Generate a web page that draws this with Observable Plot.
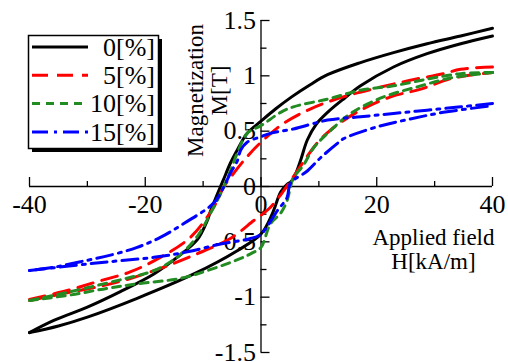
<!DOCTYPE html>
<html>
<head>
<meta charset="utf-8">
<script src="https://cdn.jsdelivr.net/npm/d3@7"></script>
<script src="https://cdn.jsdelivr.net/npm/@observablehq/plot@0.6"></script>
<style>
  html, body { margin: 0; padding: 0; background: #fff; }
  #wrap { position: relative; width: 508px; height: 362px; }
  #legend { position: absolute; left: 26px; top: 33px; }
  svg text { font-family: "Liberation Serif", "Times New Roman", Times, serif !important; }
</style>
</head>
<body>
<div id="wrap"></div>
<script>
// ---- data ----
const seriesNames = ["0[%]", "5[%]", "10[%]", "15[%]"];
const seriesColors = ["#000000", "#ff0000", "#228b22", "#0000ff"];
const seriesDash = [null, "16,9", "8,6", "16,6,3,6"];

const xMajor = [-40, -20, 0, 20, 40];
const xMinor = [-30, -10, 10, 30];
const yMajor = [-1.5, -1, -0.5, 0, 0.5, 1, 1.5];
const yMinor = [-1.25, -0.75, -0.25, 0.25, 0.75, 1.25];

// [H kA/m, M T]; upper = descending branch, lower = ascending branch
const upper0 = [[40,1.43],[34.5,1.36],[28.7,1.29],[22.9,1.21],[17.2,1.12],[11.5,1.01],[8.5,0.92],[5.3,0.81],[2.5,0.70],[0,0.59],[-2.4,0.48],[-4.1,0.33],[-5.3,0.21],[-6.5,0.06],[-7,0],[-8.7,-0.22],[-9.3,-0.31],[-11,-0.48],[-14.5,-0.64],[-18.5,-0.79],[-24.3,-0.95],[-30,-1.09],[-35.8,-1.21],[-40,-1.32]];
const lower0 = [[-40,-1.32],[-35,-1.26],[-30,-1.18],[-21.4,-1.01],[-11.6,-0.79],[-4.1,-0.58],[0,-0.43],[2,-0.24],[3.4,-0.05],[4.5,0.02],[5.1,0.04],[5.7,0.08],[6.8,0.23],[8,0.42],[9.5,0.56],[11.5,0.67],[14,0.78],[17.2,0.91],[22.9,1.08],[28.7,1.20],[34.5,1.29],[40,1.36]];

const upper5 = [[40,1.08],[34.5,1.06],[31.6,1.02],[25.8,0.96],[20,0.89],[14.2,0.81],[8.5,0.70],[3.9,0.57],[0,0.40],[-2.4,0.27],[-5.3,0.08],[-6.4,0],[-8.2,-0.19],[-12.2,-0.46],[-17.4,-0.64],[-22.5,-0.77],[-28.3,-0.86],[-33.5,-0.94],[-40,-1.02]];
const lower5 = [[-40,-1.03],[-33.5,-0.96],[-27.7,-0.90],[-23.1,-0.84],[-17.4,-0.74],[-11.6,-0.62],[-5.3,-0.47],[-1.3,-0.31],[0,-0.26],[1.6,-0.19],[3.9,-0.04],[5.1,0.05],[7.3,0.22],[9.5,0.38],[12,0.51],[17.2,0.69],[22.4,0.81],[27.6,0.88],[33.2,0.98],[40,1.03]];

const upper10 = [[40,1.03],[34.5,1.02],[28.7,0.97],[22.9,0.91],[17.2,0.87],[11.5,0.79],[5.6,0.72],[3.4,0.67],[0,0.55],[-2.4,0.48],[-4.1,0.30],[-5.3,0.14],[-6.4,0],[-8.5,-0.22],[-11,-0.45],[-14.5,-0.64],[-18.5,-0.76],[-22.5,-0.82],[-27.2,-0.88],[-32.9,-0.95],[-40,-1.03]];
const lower10 = [[-40,-1.03],[-32.9,-0.98],[-26.6,-0.92],[-21.4,-0.88],[-13.9,-0.83],[-9.3,-0.76],[-3.5,-0.65],[-1.5,-0.60],[0,-0.55],[1.6,-0.34],[3.4,-0.24],[4.5,-0.13],[5.1,0],[5.6,0.08],[7.3,0.19],[9.1,0.35],[11.5,0.48],[15.5,0.66],[21.2,0.81],[27,0.90],[32.7,0.98],[40,1.03]];

const upper15 = [[40,0.75],[34.5,0.72],[28.7,0.69],[22.9,0.66],[17.2,0.63],[11.5,0.60],[5.6,0.52],[1.6,0.48],[0,0.45],[-2.4,0.40],[-3.5,0.33],[-4.1,0.23],[-5.3,0.12],[-6.4,0],[-8.2,-0.15],[-13.2,-0.33],[-17.4,-0.46],[-21.4,-0.55],[-26,-0.62],[-31.2,-0.68],[-35.8,-0.73],[-40,-0.76]];
const lower15 = [[-40,-0.76],[-30,-0.70],[-24.3,-0.67],[-18.5,-0.64],[-12.7,-0.59],[-7,-0.52],[-1.8,-0.47],[0,-0.43],[2.8,-0.22],[4.5,-0.10],[5.1,0.03],[8,0.14],[10.3,0.26],[13.2,0.39],[14.2,0.43],[20.1,0.54],[25.8,0.61],[31.5,0.67],[40,0.73]];

const branches = [[upper0, lower0], [upper5, lower5], [upper10, lower10], [upper15, lower15]];

// ---- build table ----
const rows = [];
branches.forEach(([up, lo], i) => {
  up.forEach(([H, M]) => rows.push({series: seriesNames[i], branch: "up", H, M}));
  lo.forEach(([H, M]) => rows.push({series: seriesNames[i], branch: "down", H, M}));
});

const FONT = "Liberation Serif, Times New Roman, Times, serif";
const axisW = 1.3;

const seriesMarks = seriesNames.map((name, i) =>
  Plot.line(rows.filter(d => d.series === name), {
    x: "H", y: "M", z: "branch",
    stroke: seriesColors[i], strokeWidth: 3,
    strokeDasharray: seriesDash[i],
    curve: "catmull-rom"
  })
);

const chart = Plot.plot({
  width: 508, height: 362,
  marginLeft: 29, marginRight: 16, marginTop: 20, marginBottom: 10,
  x: {domain: [xMajor[0], xMajor[xMajor.length - 1]], axis: null},
  y: {domain: [yMajor[0], yMajor[yMajor.length - 1]], axis: null},
  style: "font-family: 'Liberation Serif', 'Times New Roman', serif; background: white; color: black; overflow: visible;",
  marks: [
    // axis lines through the origin
    Plot.ruleY([0], {x1: () => xMajor[0], x2: () => xMajor[xMajor.length - 1], stroke: "black", strokeWidth: axisW}),
    Plot.ruleX([0], {y1: () => yMajor[0], y2: () => yMajor[yMajor.length - 1], stroke: "black", strokeWidth: axisW}),
    // tick marks
    Plot.ruleX(xMajor, {x: d => d, y1: () => 0, y2: () => 0, insetTop: -9, stroke: "black", strokeWidth: axisW}),
    Plot.ruleX(xMinor, {x: d => d, y1: () => 0, y2: () => 0, insetTop: -5, stroke: "black", strokeWidth: axisW}),
    Plot.ruleY(yMajor, {y: d => d, x1: () => 0, x2: () => 0, insetRight: -9, stroke: "black", strokeWidth: axisW}),
    Plot.ruleY(yMinor, {y: d => d, x1: () => 0, x2: () => 0, insetRight: -6, stroke: "black", strokeWidth: axisW}),
    // tick labels
    Plot.text(xMajor, {x: d => d, y: () => 0, text: d => String(d), dy: 18, fontSize: 26, fontFamily: FONT, fill: "black"}),
    Plot.text(yMajor, {x: () => 0, y: d => d, text: d => String(d), textAnchor: "end", dx: -5, fontSize: 26, fontFamily: FONT, fill: "black"}),
    // axis titles
    Plot.text(["Applied field\nH[kA/m]"], {frameAnchor: "top-left", dx: 404, dy: 207, textAnchor: "middle", lineAnchor: "top", lineHeight: 1.05, fontSize: 23, fontFamily: FONT, fill: "black"}),
    Plot.text(["Magnetization\nM[T]"], {frameAnchor: "top-left", dx: 156, dy: 70, rotate: -90, textAnchor: "middle", lineAnchor: "top", lineHeight: 1.05, fontSize: 23, fontFamily: FONT, fill: "black"}),
    // data
    ...seriesMarks
  ]
});

const wrap = document.getElementById("wrap");
wrap.appendChild(chart);

// ---- legend (boxed with drop shadow) ----
const lg = d3.create("svg").attr("id", "legend").attr("width", 142).attr("height", 126)
  .style("font-family", FONT);
lg.append("rect").attr("x", 6).attr("y", 6).attr("width", 130).attr("height", 113).attr("fill", "black");
lg.append("rect").attr("x", 2.5).attr("y", 2.5).attr("width", 130).attr("height", 113)
  .attr("fill", "white").attr("stroke", "black").attr("stroke-width", 1.5);
seriesNames.forEach((name, i) => {
  const cy = 14 + i * 28.3;
  lg.append("line").attr("x1", 6).attr("x2", 62).attr("y1", cy).attr("y2", cy)
    .attr("stroke", seriesColors[i]).attr("stroke-width", 3)
    .attr("stroke-dasharray", seriesDash[i]);
  lg.append("text").attr("x", 129).attr("y", cy).attr("dy", "0.34em")
    .attr("text-anchor", "end").attr("font-size", 26).text(name);
});
wrap.appendChild(lg.node());
</script>
</body>
</html>
